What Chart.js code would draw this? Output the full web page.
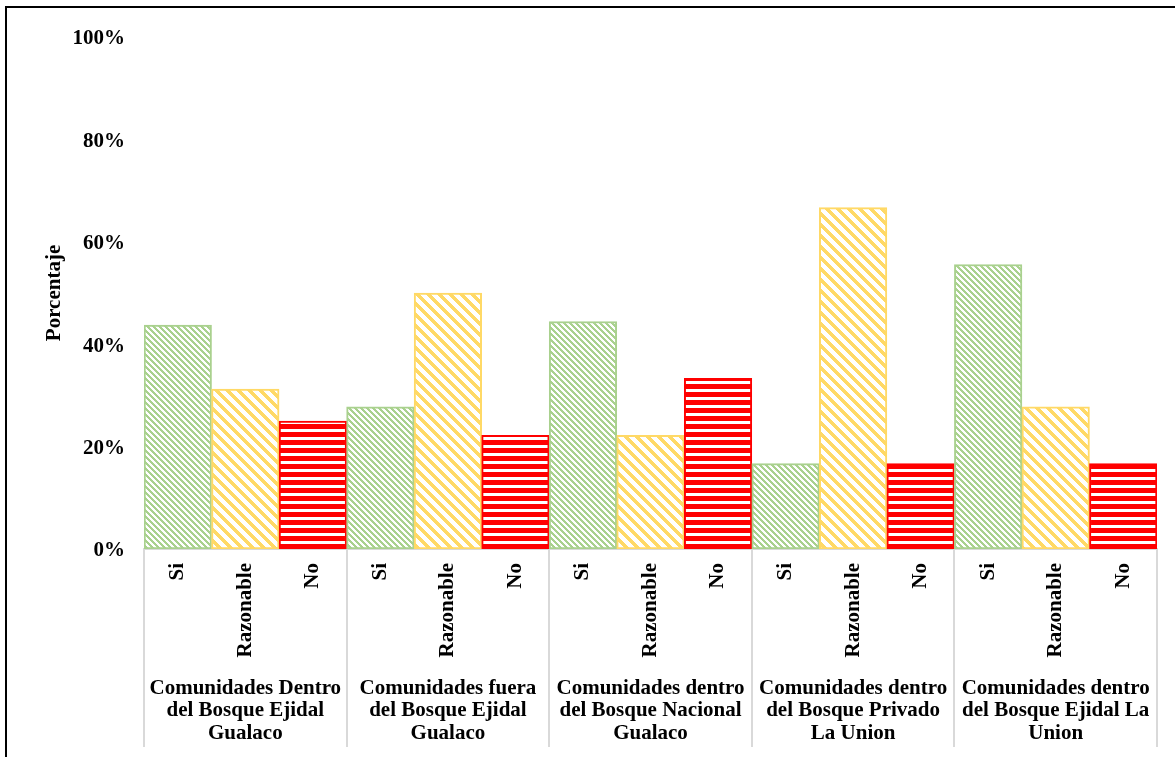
<!DOCTYPE html>
<html>
<head>
<meta charset="utf-8">
<script src="https://cdn.jsdelivr.net/npm/chart.js@4.4.1/dist/chart.umd.min.js"></script>
<style>
  html, body { margin: 0; padding: 0; background: #ffffff; }
  #wrap { position: relative; width: 1175px; height: 757px; }
</style>
</head>
<body>
<div id="wrap"><canvas id="chart"></canvas></div>
<script>
// Community groups (outer level of the category axis)
const groups = [
  ['Comunidades Dentro', 'del Bosque Ejidal', 'Gualaco'],
  ['Comunidades fuera', 'del Bosque Ejidal', 'Gualaco'],
  ['Comunidades dentro', 'del Bosque Nacional', 'Gualaco'],
  ['Comunidades dentro', 'del Bosque Privado', 'La Union'],
  ['Comunidades dentro', 'del Bosque Ejidal La', 'Union']
];
// Answers (inner level of the category axis)
const responses = ['Si', 'Razonable', 'No'];

// Percentage of answers per group
const siValues        = [43.75, 27.78, 44.44, 16.67, 55.56];
const razonableValues = [31.25, 50.00, 22.22, 66.67, 27.78];
const noValues        = [25.00, 22.22, 33.33, 16.67, 16.67];

const yTickValues = [0, 20, 40, 60, 80, 100];

// Flattened categories: one bar per (group, answer)
const barLabels = groups.flatMap(() => responses);
const barValues = groups.flatMap((g, i) => [siValues[i], razonableValues[i], noValues[i]]);

const FONT = 'Liberation Serif, "Times New Roman", serif';

// Pixel fill patterns
function diagonalPattern(color, period, width) {
  const c = document.createElement('canvas');
  c.width = period; c.height = period;
  const g = c.getContext('2d');
  g.fillStyle = '#ffffff';
  g.fillRect(0, 0, period, period);
  g.fillStyle = color;
  for (let y = 0; y < period; y++) {
    for (let x = 0; x < period; x++) {
      const d = ((x - y) % period + period) % period;
      if (d < width) g.fillRect(x, y, 1, 1);
    }
  }
  return g.createPattern(c, 'repeat');
}
function horizontalPattern(color, period, width) {
  const c = document.createElement('canvas');
  c.width = period; c.height = period;
  const g = c.getContext('2d');
  g.fillStyle = '#ffffff';
  g.fillRect(0, 0, period, period);
  g.fillStyle = color;
  g.fillRect(0, 0, period, width);
  return g.createPattern(c, 'repeat');
}

const lineColors = ['#A9D18E', '#FFD966', '#FF0000'];
const fills = [
  diagonalPattern('#A9D18E', 6, 3),
  diagonalPattern('#FFD966', 11, 5),
  horizontalPattern('#FF0000', 8, 5)
];

// Group separators below the axis and the page frame
const framePlugin = {
  id: 'frame',
  afterDraw(chart) {
    const ctx = chart.ctx;
    const x = chart.scales.x;
    const x2 = chart.scales.x2;
    const step = x.getPixelForValue(1) - x.getPixelForValue(0);
    ctx.save();
    ctx.strokeStyle = '#D9D9D9';
    ctx.lineWidth = 2;
    for (let g = 0; g <= groups.length; g++) {
      const px = Math.round(x.getPixelForValue(g * responses.length) - step / 2);
      ctx.beginPath();
      ctx.moveTo(px, x.top);
      ctx.lineTo(px, x2.bottom);
      ctx.stroke();
    }
    ctx.strokeStyle = '#000000';
    ctx.lineWidth = 2;
    ctx.beginPath();
    ctx.moveTo(6, chart.height);
    ctx.lineTo(6, 7);
    ctx.lineTo(chart.width, 7);
    ctx.stroke();
    ctx.restore();
  }
};

new Chart(document.getElementById('chart'), {
  type: 'bar',
  data: {
    labels: barLabels,
    datasets: [{
      data: barValues,
      backgroundColor: barValues.map((v, i) => fills[i % 3]),
      borderColor: barValues.map((v, i) => lineColors[i % 3]),
      borderWidth: 2,
      borderSkipped: false,
      categoryPercentage: 1,
      barPercentage: 1
    }]
  },
  options: {
    responsive: true,
    maintainAspectRatio: false,
    animation: false,
    layout: { padding: { top: 37, right: 18, bottom: 10, left: 0 } },
    plugins: { legend: { display: false }, tooltip: { enabled: false } },
    scales: {
      y: {
        min: 0, max: 100,
        afterBuildTicks: s => { s.ticks = yTickValues.map(v => ({ value: v })); },
        afterFit: s => { s.width = 144; },
        grid: { display: false, drawTicks: false },
        border: { display: false },
        ticks: {
          padding: 19,
          labelOffset: 2,
          color: '#000000',
          font: { family: FONT, size: 21, weight: 'bold' },
          callback: v => v + '%'
        },
        title: {
          display: true,
          text: 'Porcentaje',
          color: '#000000',
          padding: { top: 42, bottom: 0 },
          font: { family: FONT, size: 21, weight: 'bold' }
        }
      },
      x: {
        position: 'bottom',
        afterFit: s => { s.height = 123; },
        grid: { display: false, drawTicks: false },
        border: { display: true, color: '#D9D9D9', width: 2 },
        ticks: {
          autoSkip: false,
          minRotation: 90, maxRotation: 90,
          padding: 14,
          color: '#000000',
          font: { family: FONT, size: 21, weight: 'bold' }
        }
      },
      x2: {
        type: 'category',
        position: 'bottom',
        labels: groups,
        offset: true,
        afterFit: s => { s.height = 75; },
        grid: { display: false, drawTicks: false },
        border: { display: false },
        ticks: {
          autoSkip: false,
          minRotation: 0, maxRotation: 0,
          padding: 5,
          color: '#000000',
          font: { family: FONT, size: 21, weight: 'bold', lineHeight: 1.07 }
        }
      }
    }
  },
  plugins: [framePlugin]
});
</script>
</body>
</html>
